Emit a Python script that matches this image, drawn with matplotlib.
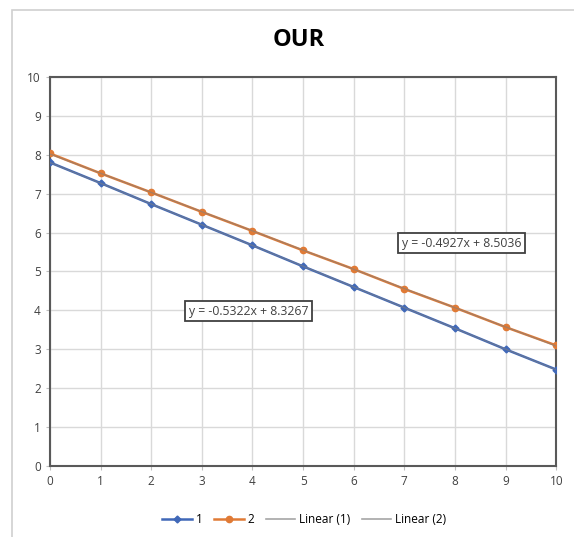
import matplotlib
matplotlib.use('Agg')
import matplotlib.pyplot as plt
from matplotlib.patches import Rectangle
import numpy as np

# Données
x = list(range(11))
serie1 = [7.80, 7.27, 6.73, 6.20, 5.67, 5.13, 4.60, 4.07, 3.54, 3.00, 2.48]
serie2 = [8.03, 7.52, 7.03, 6.53, 6.04, 5.54, 5.06, 4.55, 4.07, 3.57, 3.10]
noms = ['1', '2']
eq1 = 'y = -0.5322x + 8.3267'
eq2 = 'y = -0.4927x + 8.5036'

plt.rcParams['font.family'] = ['Open Sans', 'DejaVu Sans']

fig = plt.figure(figsize=(5.74, 5.37), dpi=100)
ax = fig.add_axes([0.087, 0.132, 0.882, 0.725])

# cadre extérieur
fig.patches.append(Rectangle((12/574, -0.01), 1.0, 1 - 10/537 + 0.01, transform=fig.transFigure,
                             fill=False, edgecolor='#d0d0d0', linewidth=1.2))

l1, = ax.plot(x, serie1, color='#4068b8', marker='D', markersize=3.5, linewidth=1.8, label='1', zorder=3)
l2, = ax.plot(x, serie2, color='#e07a35', marker='o', markersize=4.5, linewidth=1.8, label='2', zorder=3)

# tendances linéaires (Excel: x = 1..11)
xx = np.arange(1, 12)
for s, nom in zip([serie1, serie2], noms):
    a, b = np.polyfit(xx, s, 1)
    ax.plot(x, a * xx + b, color='#808080', linewidth=0.9, alpha=0.6, label=f'Linear ({nom})', zorder=4)

ax.set_xlim(0, 10)
ax.set_ylim(0, 10)
ax.set_xticks(range(11))
ax.set_yticks(range(11))
ax.grid(True, color='#d9d9d9', linewidth=1)
ax.tick_params(labelsize=8.5, colors='#404040', length=3, color='#bfbfbf')
for sp in ax.spines.values():
    sp.set_color('#595959')
    sp.set_linewidth(1.5)

box = dict(boxstyle='square,pad=0.3', facecolor='white', edgecolor='#404040', linewidth=1.3)
ax.text(2.74, 3.98, eq1, fontsize=8.8, color='#404040', bbox=box, va='center', ha='left')
ax.text(6.95, 5.73, eq2, fontsize=8.8, color='#404040', bbox=box, va='center', ha='left')

fig.text(0.52, 0.925, 'OUR', fontsize=17, fontweight='bold', ha='center', va='center')

handles, labels = ax.get_legend_handles_labels()
hl = [handles[0], handles[1], plt.Line2D([], [], color='#a6a6a6', lw=1.2),
      plt.Line2D([], [], color='#a6a6a6', lw=1.2)]
fig.legend(hl, labels, loc='center',
           bbox_to_anchor=(0.53, 0.033), ncol=4, frameon=False, fontsize=8.5,
           handlelength=2.5, columnspacing=1.0, handletextpad=0.3)

fig.savefig('out.png', dpi=100)
